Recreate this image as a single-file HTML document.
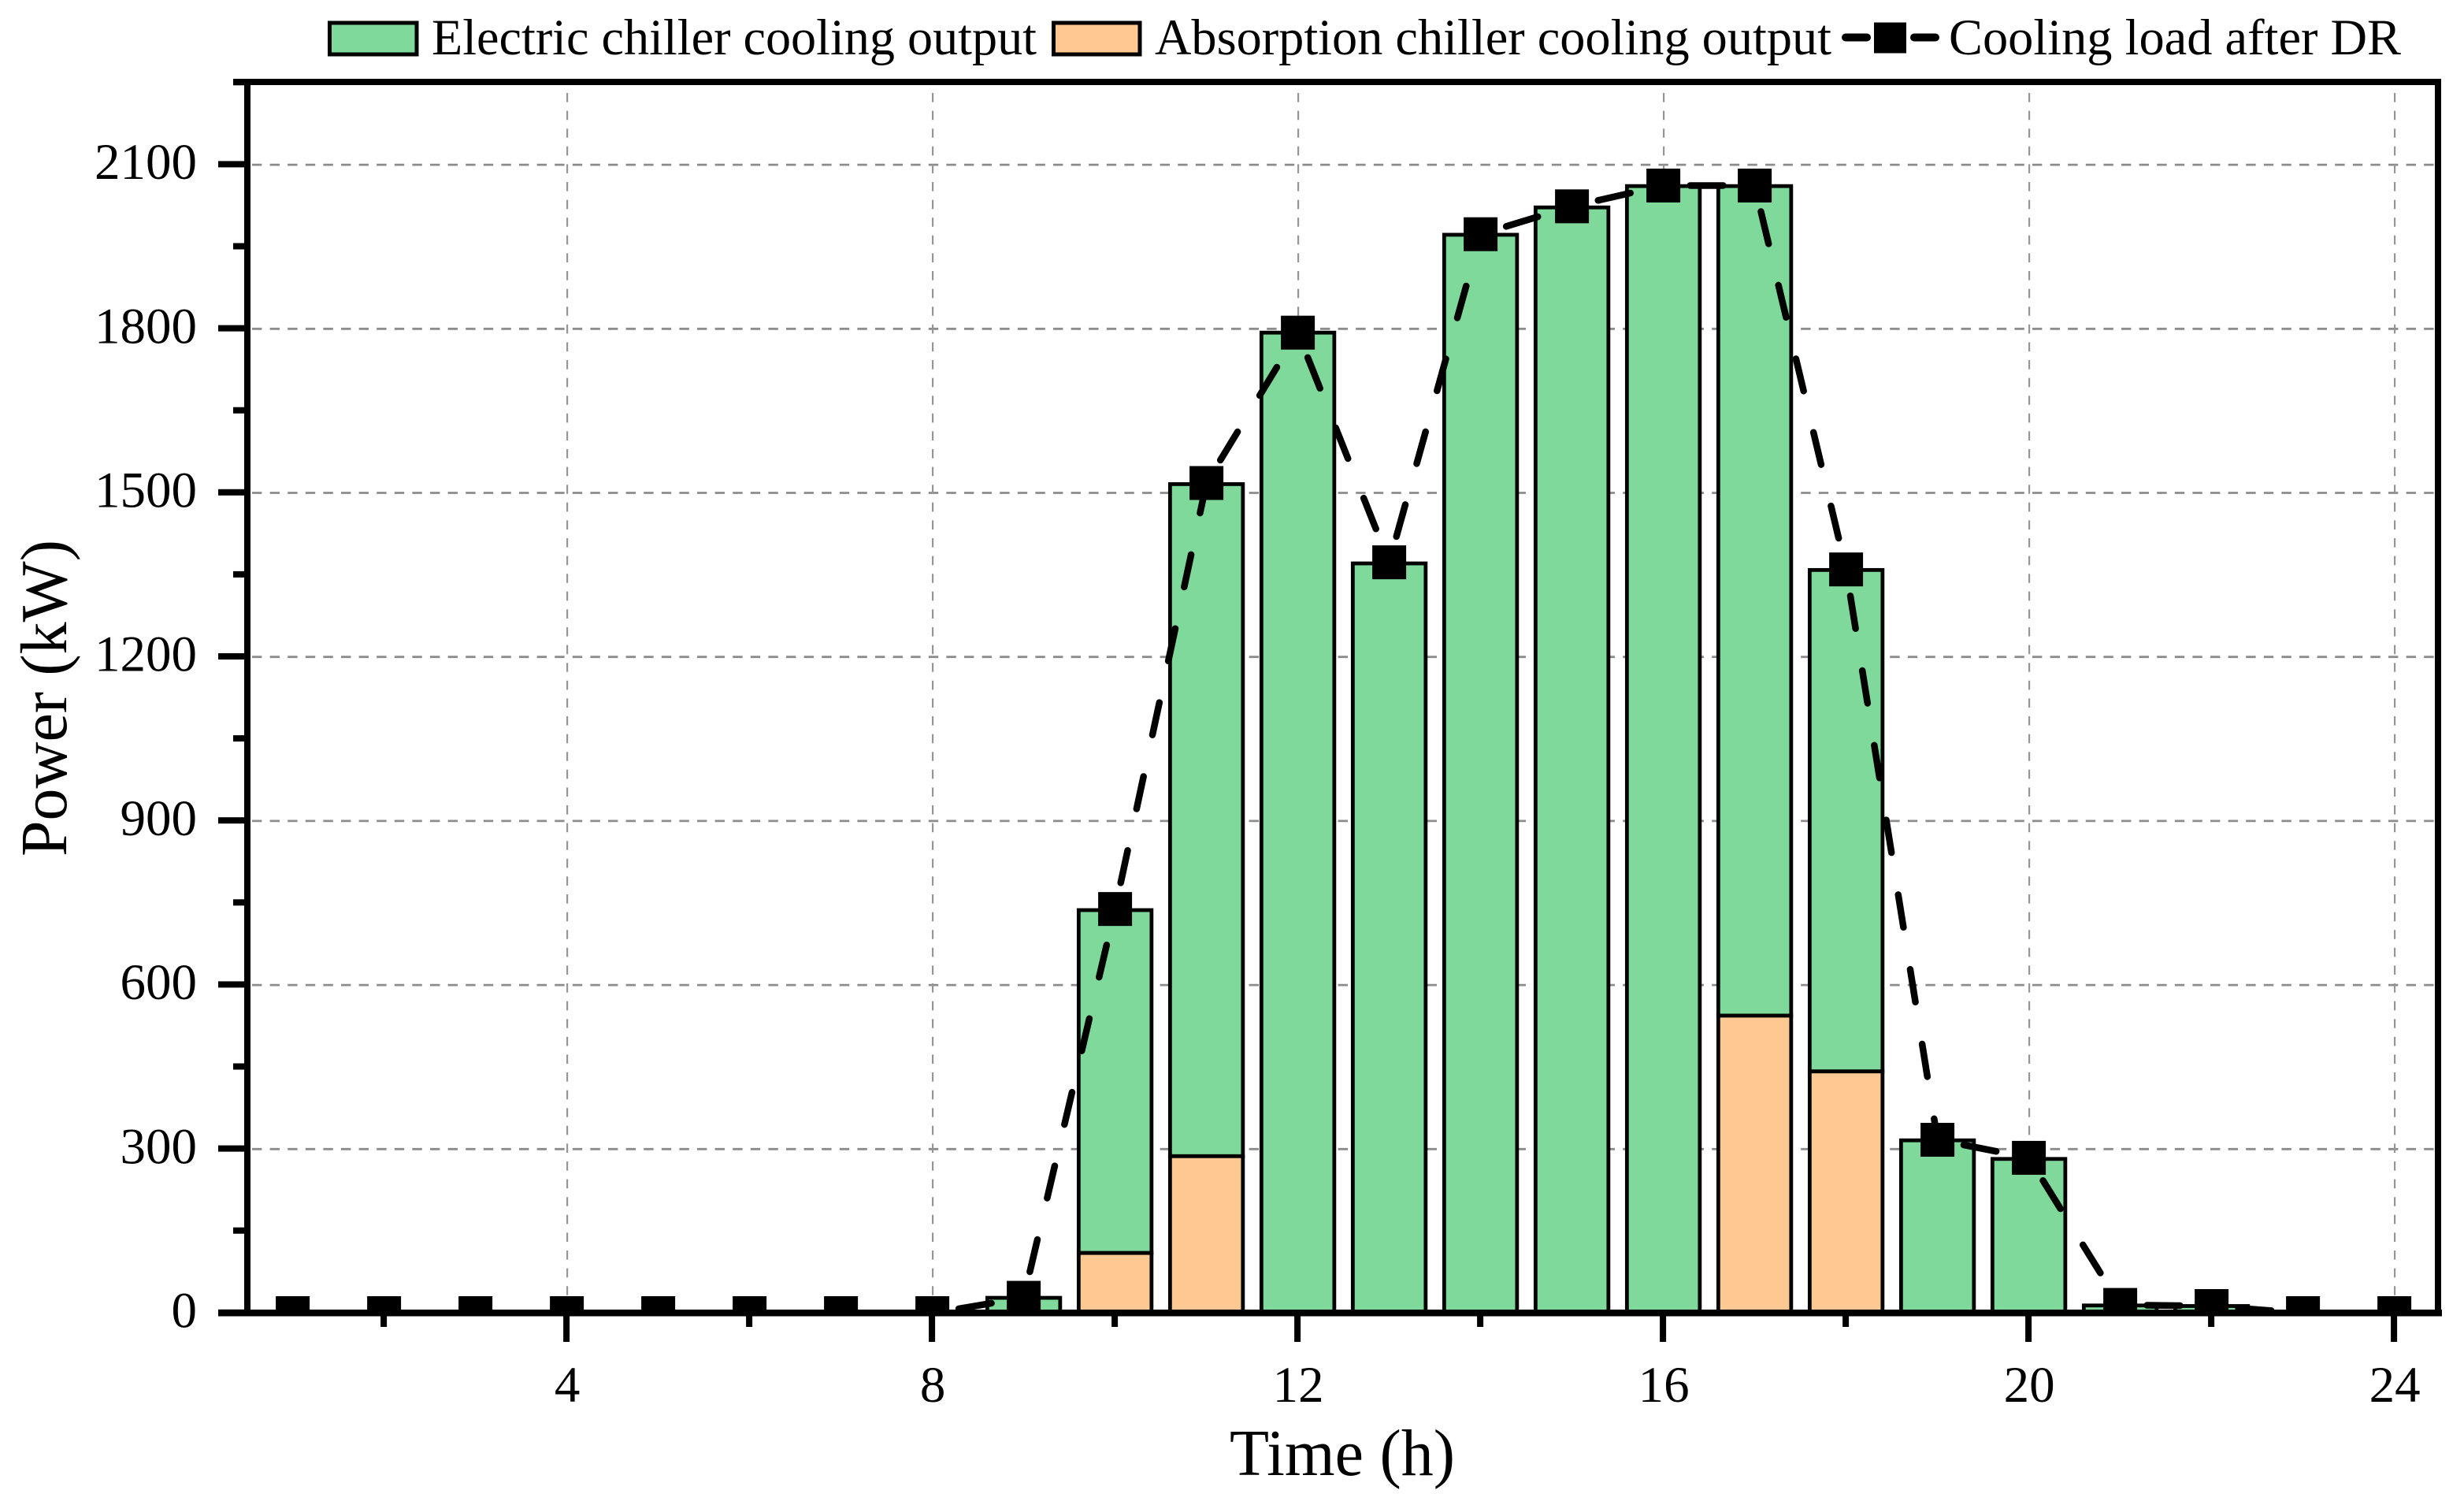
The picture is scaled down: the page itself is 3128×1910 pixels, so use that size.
<!DOCTYPE html>
<html lang="en">
<head>
<meta charset="utf-8">
<title>Cooling output and load after DR</title>
<style>
html,body{margin:0;padding:0;background:#fff;}
svg{display:block;}
text{font-family:"Liberation Serif","Times New Roman",serif;fill:#000;}
</style>
</head>
<body>
<svg id="chart" xmlns="http://www.w3.org/2000/svg" width="3128" height="1910" viewBox="0 0 3128 1910">
  <defs>
    <clipPath id="plot-clip"><rect x="296" y="90" width="2804" height="1580"></rect></clipPath>
  </defs>
  <rect x="0" y="0" width="3128" height="1910" fill="#fff"></rect>
  <g id="grid"></g>
  <g id="bars"></g>
  <g id="line"></g>
  <g id="markers" clip-path="url(#plot-clip)"></g>
  <g id="axes">
    <rect x="296" y="100" width="2803" height="8" fill="#000"></rect>
    <rect x="310" y="100" width="8" height="1570" fill="#000"></rect>
    <rect x="3091" y="100" width="8" height="1570" fill="#000"></rect>
    <rect x="277" y="1662" width="2823" height="8.5" fill="#000"></rect>
  </g>
  <g id="y-ticks"></g>
  <g id="x-ticks"></g>
  <text x="1561" y="1872" font-size="84" textLength="286" lengthAdjust="spacingAndGlyphs">Time (h)</text>
  <text transform="translate(84 1087) rotate(-90)" x="0" y="0" font-size="84" textLength="402" lengthAdjust="spacingAndGlyphs">Power (kW)</text>
  <g>
    <g>
      <rect x="418.5" y="29" width="110.5" height="40" fill="#7fd99b" stroke="#000" stroke-width="5"></rect>
      <text x="548" y="69" font-size="65" textLength="768" lengthAdjust="spacingAndGlyphs">Electric chiller cooling output</text>
    </g>
    <g>
      <rect x="1337.5" y="29" width="109.5" height="40" fill="#fec892" stroke="#000" stroke-width="5"></rect>
      <text x="1466" y="69" font-size="65" textLength="859" lengthAdjust="spacingAndGlyphs">Absorption chiller cooling output</text>
    </g>
    <g>
      <line x1="2343" y1="47.5" x2="2370" y2="47.5" stroke="#000" stroke-width="10" stroke-linecap="round"></line>
      <rect x="2379" y="28.5" width="41" height="39" fill="#000"></rect>
      <line x1="2430" y1="47.5" x2="2457" y2="47.5" stroke="#000" stroke-width="10" stroke-linecap="round"></line>
      <text x="2474" y="69" font-size="65" textLength="574" lengthAdjust="spacingAndGlyphs">Cooling load after DR</text>
    </g>
  </g>
</svg>
<script>
const hours = [1,2,3,4,5,6,7,8,9,10,11,12,13,14,15,16,17,18,19,20,21,22,23,24];
const electricOutput = [0,0,0,0,0,0,0,0,28,627,1229,1793,1371,1972,2022,2061,1517,917,316,282,14,13,0,0];
const absorptionOutput = [0,0,0,0,0,0,0,0,0,110,287,0,0,0,0,0,544,442,0,0,0,0,0,0];
const coolingLoad = [0,0,0,0,0,0,0,0,28,739,1518,1793,1373,1973,2024,2062,2062,1360,317,284,15,13,0,0];
const yMajorTicks = [0,300,600,900,1200,1500,1800,2100];
const yMinorTicks = [150,450,750,1050,1350,1650,1950,2250];
const xMajorTicks = [4,8,12,16,20,24];
const xMinorTicks = [2,6,10,14,18,22];

const SVG_NS = 'http://www.w3.org/2000/svg';
function xScale(h){ return 719.6 + (h - 4) * 116; }
function yScale(v){ return 1666.5 - v * 0.694; }
function make(tag, parent){
  const el = document.createElementNS(SVG_NS, tag);
  parent.appendChild(el);
  return el;
}
function set(el, props){
  for (const k in props) el.setAttribute(k, props[k]);
  return el;
}

const gridG = document.getElementById('grid');
yMajorTicks.filter(v => v > 0).forEach(v => {
  const l = make('line', gridG);
  
  
  set(l, {x1:318, x2:3091, y1:yScale(v), y2:yScale(v), stroke:'#8c8c8c', 'stroke-width':2.8, 'stroke-dasharray':'12.4 10.2', 'stroke-dashoffset':-2});
});
xMajorTicks.forEach(h => {
  const l = make('line', gridG);
  
  
  set(l, {x1:xScale(h)+0.5, x2:xScale(h)+0.5, y1:118, y2:1662, stroke:'#969696', 'stroke-width':2.2, 'stroke-dasharray':'11.6 11'});
});

const barsG = document.getElementById('bars');
const BAR_W = 92.5;
hours.forEach((h, i) => {
  const a = absorptionOutput[i];
  const e = electricOutput[i];
  if (e > 0) {
    const r = make('rect', barsG);
    
    
    set(r, {x:xScale(h)-BAR_W/2, y:yScale(a+e), width:BAR_W, height:yScale(a)-yScale(a+e), fill:'#7fd99b', stroke:'#000', 'stroke-width':4.8});
  }
  if (a > 0) {
    const r = make('rect', barsG);
    
    
    set(r, {x:xScale(h)-BAR_W/2, y:yScale(a), width:BAR_W, height:yScale(0)-yScale(a), fill:'#fec892', stroke:'#000', 'stroke-width':4.8});
  }
});

const lineG = document.getElementById('line');
for (let i = 0; i < hours.length - 1; i++) {
  if (coolingLoad[i] === 0 && coolingLoad[i+1] === 0) continue;
  const s = make('line', lineG);
  
  
  set(s, {x1:xScale(hours[i]), y1:yScale(coolingLoad[i]), x2:xScale(hours[i+1]), y2:yScale(coolingLoad[i+1]), stroke:'#000', 'stroke-width':8.5, 'stroke-linecap':'round', 'stroke-dasharray':'42 54', 'stroke-dashoffset':-34});
}

const markersG = document.getElementById('markers');
hours.forEach((h, i) => {
  const m = make('rect', markersG);
  
  
  set(m, {x:xScale(h)-21.5, y:yScale(coolingLoad[i])-21.5, width:43, height:43, fill:'#000'});
});

const yG = document.getElementById('y-ticks');
yMajorTicks.forEach(v => {
  const t = make('rect', yG);
  
  
  set(t, {x:277, y:yScale(v)-4.7, width:35, height:8, fill:'#000'});
  const lab = make('text', yG);
  
  
  set(lab, {x:250, y:yScale(v)+18, 'font-size':65, 'text-anchor':'end'});
  lab.textContent = String(v);
});
yMinorTicks.forEach(v => {
  const t = make('rect', yG);
  
  
  set(t, {x:296, y:yScale(v)-4.7, width:16, height:8, fill:'#000'});
});

const xG = document.getElementById('x-ticks');
xMajorTicks.forEach(h => {
  const t = make('rect', xG);
  
  
  set(t, {x:xScale(h)-4.5, y:1668, width:8, height:35, fill:'#000'});
  const lab = make('text', xG);
  
  
  set(lab, {x:xScale(h)+0.5, y:1779, 'font-size':65, 'text-anchor':'middle'});
  lab.textContent = String(h);
});
xMinorTicks.forEach(h => {
  const t = make('rect', xG);
  
  
  set(t, {x:xScale(h)-4.5, y:1668, width:8, height:16, fill:'#000'});
});
</script>
</body>
</html>
